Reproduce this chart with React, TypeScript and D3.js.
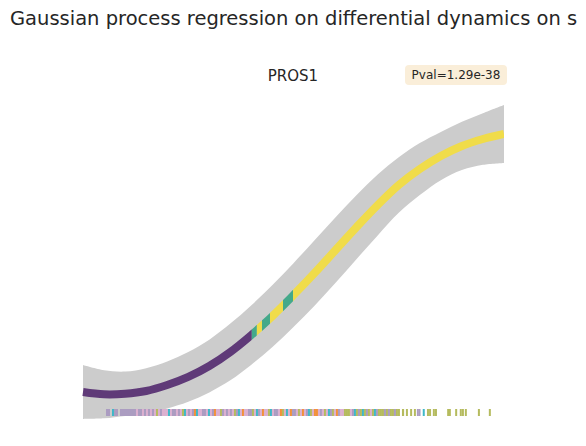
import React, { useEffect, useRef } from 'react';
import * as d3 from 'd3';

// GP posterior mean and half-width of the confidence band, sampled along pseudotime
const pseudotime = [0, 0.05, 0.1, 0.15, 0.2, 0.25, 0.3, 0.35, 0.4, 0.45, 0.5, 0.55, 0.6, 0.65, 0.7, 0.75, 0.8, 0.85, 0.9, 0.95, 1];
const meanExpr = [0.267, 0.245, 0.25, 0.276, 0.333, 0.41, 0.514, 0.648, 0.81, 0.99, 1.19, 1.4, 1.619, 1.838, 2.048, 2.238, 2.39, 2.514, 2.61, 2.676, 2.724];
const bandHalf = [0.257, 0.229, 0.211, 0.218, 0.224, 0.237, 0.251, 0.27, 0.283, 0.295, 0.304, 0.312, 0.312, 0.304, 0.29, 0.264, 0.248, 0.23, 0.23, 0.246, 0.276];

// colour of the mean curve between pseudotime breakpoints (viridis over the band)
const curveBreaks = [0, 0.401, 0.413, 0.425, 0.444, 0.475, 0.499, 1];
const curveColors = ['#5f3a78', '#44a98a', '#f0dc4a', '#44a98a', '#f0dc4a', '#44a98a', '#f0dc4a'];

// rug of cells: one code every rugStep of pseudotime from rugStart, '.' = no cell
const rugStart = 0.0546;
const rugStep = 0.00475;
const rugCodes =
  'aa.taa.aaa' + 'aaaaapaapa' + 'papapgpapp' + 'ptpaapapgt' + 'papaotppaa' +
  'ptpaoppgap' + 'apapgatpop' + 'paagptapop' + 'pgtpaapogp' + 'tpoaapgpop' +
  'atgpoopapg' + 'ptagpoappg' + 'ggpatgagtg' + 'agpgtaggga' + 'gaggagg.g.';
// sparse cells late in pseudotime
const rugLate = [0.758, 0.767, 0.777, 0.786, 0.793, 0.797, 0.807, 0.817, 0.822, 0.831, 0.836, 0.865, 0.869, 0.884, 0.895, 0.9, 0.907, 0.938, 0.964];
const rugLateCodes = 'ggggaatgggggggggggg';
const rugPalette: Record<string, string> = {
  a: '#ab9cc1',
  p: '#dcb0d0',
  t: '#3fb8c8',
  o: '#f2913a',
  g: '#b5bb5e',
};

const gene = 'PROS1';
const pval = 'Pval=1.29e-38';
const title = 'Gaussian process regression on differential dynamics on s';

const App = () => {
  const ref = useRef<SVGSVGElement>(null);

  useEffect(() => {
    const svg = d3.select(ref.current);
    svg.selectAll('*').remove();

    const width = 586;
    const height = 446;

    const x = d3.scaleLinear().domain([0, 1]).range([83, 504]);
    const y = d3.scaleLinear().domain([0, 3]).range([420, 105]);

    const pts = pseudotime.map((t, i) => ({ t, m: meanExpr[i], s: bandHalf[i] }));

    svg.attr('width', width).attr('height', height);

    // confidence band
    const area = d3.area<any>()
      .x(d => x(d.t))
      .y0(d => y(d.m - d.s))
      .y1(d => y(d.m + d.s))
      .curve(d3.curveCatmullRom);

    svg.append('path')
      .datum(pts)
      .attr('d', area)
      .attr('fill', '#cccccc');

    // mean curve, coloured piecewise
    const line = d3.line<any>()
      .x(d => x(d.t))
      .y(d => y(d.m))
      .curve(d3.curveCatmullRom);

    const defs = svg.append('defs');
    curveColors.forEach((c, i) => {
      const x0 = x(curveBreaks[i]);
      const x1 = x(curveBreaks[i + 1]);
      defs.append('clipPath')
        .attr('id', `seg${i}`)
        .append('rect')
        .attr('x', i === 0 ? x0 - 10 : x0)
        .attr('y', 0)
        .attr('width', x1 - x0 + (i === 0 ? 10 : 0))
        .attr('height', height);
      svg.append('path')
        .datum(pts)
        .attr('d', line)
        .attr('fill', 'none')
        .attr('stroke', c)
        .attr('stroke-width', 8)
        .attr('clip-path', `url(#seg${i})`);
    });

    // rug
    const rug = svg.append('g');
    rugCodes.split('').forEach((c, i) => {
      if (c === '.') return;
      rug.append('rect')
        .attr('x', x(rugStart + i * rugStep))
        .attr('y', 409)
        .attr('width', 2)
        .attr('height', 7)
        .attr('fill', rugPalette[c]);
    });
    rugLate.forEach((t, i) => {
      rug.append('rect')
        .attr('x', x(t))
        .attr('y', 409)
        .attr('width', 2)
        .attr('height', 7)
        .attr('fill', rugPalette[rugLateCodes[i]]);
    });

    // titles
    svg.append('text')
      .attr('x', 10)
      .attr('y', 25)
      .attr('font-family', 'DejaVu Sans')
      .attr('font-size', 19.5)
      .attr('fill', '#262626')
      .text(title);

    svg.append('text')
      .attr('x', 293)
      .attr('y', 81)
      .attr('text-anchor', 'middle')
      .attr('font-family', 'DejaVu Sans')
      .attr('font-size', 15)
      .attr('fill', '#262626')
      .text(gene);

    const label = svg.append('g');
    label.append('rect')
      .attr('x', 405)
      .attr('y', 65)
      .attr('width', 102)
      .attr('height', 20)
      .attr('rx', 4)
      .attr('fill', '#faeed9');
    label.append('text')
      .attr('x', 456)
      .attr('y', 79)
      .attr('text-anchor', 'middle')
      .attr('font-family', 'DejaVu Sans')
      .attr('font-size', 12)
      .attr('fill', '#262626')
      .text(pval);
  }, []);

  return <svg ref={ref} style={{ position: 'absolute', left: 0, top: 0, display: 'block' }}></svg>;
};

export default App;
